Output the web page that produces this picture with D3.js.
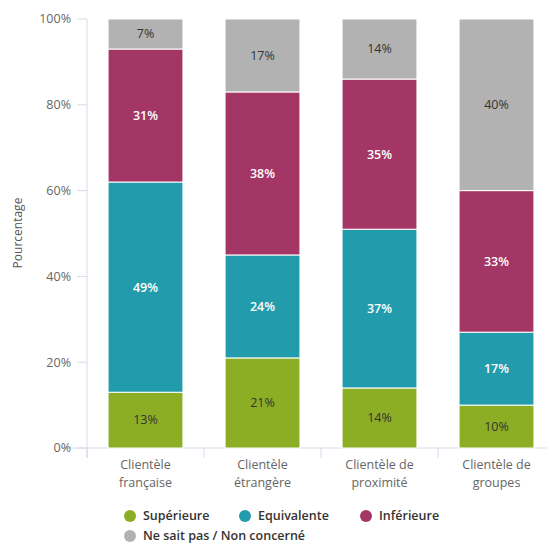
<!DOCTYPE html>
<html><head><meta charset="utf-8">
<script src="https://cdn.jsdelivr.net/npm/d3@7"></script>
<style>body{margin:0;background:#fff;} text{font-family:"Open Sans",Lato,sans-serif;}</style>
</head><body><svg id="c" width="547" height="544"></svg>
<script>
const categories = [["Clientèle","française"],["Clientèle","étrangère"],["Clientèle de","proximité"],["Clientèle de","groupes"]];
const seriesNames = ["Supérieure","Equivalente","Inférieure","Ne sait pas / Non concerné"];
const superieure = [13,21,14,10];
const equivalente = [49,24,37,17];
const inferieure = [31,38,35,33];
const nsp = [7,17,14,40];
const colors = ["#8cae24","#229cac","#a33665","#b2b2b2"];
const labelColors = ["#333","#fff","#fff","#333"];
const labelWeights = [400,600,600,400];
const yTicks = [0,20,40,60,80,100];

const svg = d3.select("#c");
const x = d3.scaleBand().domain(d3.range(categories.length)).range([87,555]).paddingInner(0.36).paddingOuter(0.18);
const y = d3.scaleLinear().domain([0,100]).range([448,19]);
const values = [superieure,equivalente,inferieure,nsp];
const rows = categories.map((c,i)=>{const o={i};seriesNames.forEach((s,k)=>o[s]=values[k][i]);return o;});
const stack = d3.stack().keys(seriesNames)(rows);

// axes
const axisColor = "#d5dcea";
svg.append("line").attr("x1",87).attr("x2",87).attr("y1",y(100)).attr("y2",458).attr("stroke",axisColor);
svg.append("line").attr("x1",60).attr("x2",547).attr("y1",y(0)).attr("y2",y(0)).attr("stroke",axisColor);
yTicks.forEach(t=>{
  svg.append("line").attr("x1",77).attr("x2",87).attr("y1",y(t)).attr("y2",y(t)).attr("stroke",axisColor);
  svg.append("text").attr("x",71).attr("y",y(t)).attr("dy","0.35em").attr("text-anchor","end").attr("font-size",12.5).attr("fill","#666").text(t+"%");
});
[0,1,2,3,4].forEach(i=>{
  const xx = 87 + i*x.step();
  svg.append("line").attr("x1",xx).attr("x2",xx).attr("y1",y(0)).attr("y2",458).attr("stroke",axisColor);
});
svg.append("text").attr("transform","translate(22,233) rotate(-90)").attr("text-anchor","middle").attr("font-size",12).attr("fill","#555").text("Pourcentage");

categories.forEach((c,i)=>{
  const t = svg.append("text").attr("x",x(i)+x.bandwidth()/2).attr("y",469).attr("text-anchor","middle").attr("font-size",12.5).attr("fill","#666");
  t.append("tspan").attr("x",x(i)+x.bandwidth()/2).text(c[0]);
  t.append("tspan").attr("x",x(i)+x.bandwidth()/2).attr("dy",18).text(c[1]);
});

stack.forEach((layer,k)=>{
  const g = svg.append("g");
  layer.forEach((d,i)=>{
    g.append("rect").attr("x",x(i)).attr("width",x.bandwidth()).attr("y",y(d[1])).attr("height",y(d[0])-y(d[1]))
      .attr("fill",colors[k]).attr("stroke","#fff").attr("stroke-width",1);
    g.append("text").attr("x",x(i)+x.bandwidth()/2).attr("y",(y(d[0])+y(d[1]))/2).attr("dy","0.35em")
      .attr("text-anchor","middle").attr("font-size",12.5).attr("font-weight",labelWeights[k]).attr("fill",labelColors[k]).text((d[1]-d[0])+"%");
  });
});

// legend
const legendPos = [[130,516],[245,516],[366,516],[130,536]];
seriesNames.forEach((s,k)=>{
  const [lx,ly] = legendPos[k];
  svg.append("circle").attr("cx",lx).attr("cy",ly).attr("r",6).attr("fill",colors[k]);
  svg.append("text").attr("x",lx+13).attr("y",ly).attr("dy","0.35em").attr("font-size",12.5).attr("font-weight",600).attr("fill","#333").text(s);
});
</script></body></html>
